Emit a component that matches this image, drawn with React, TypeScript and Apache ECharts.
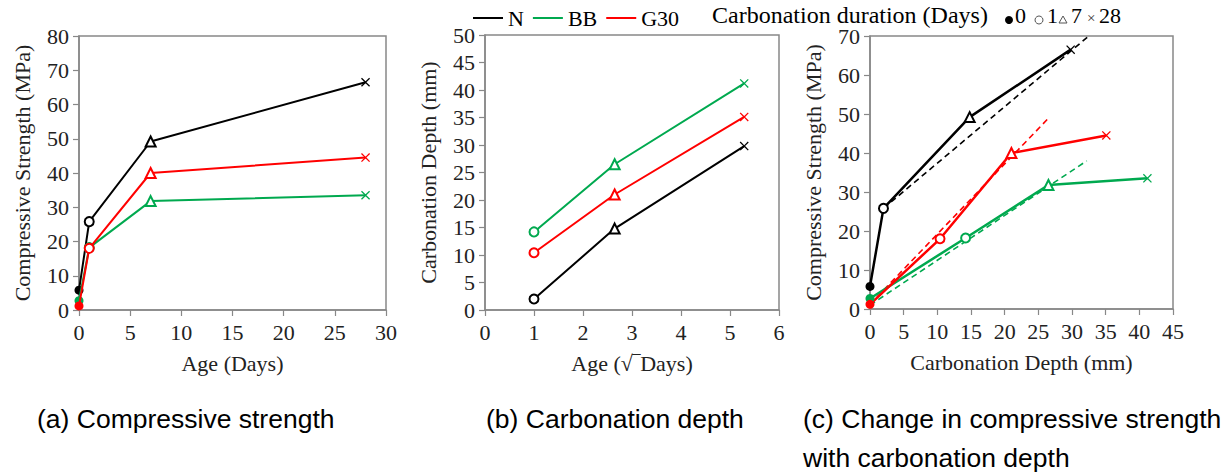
import React, { useEffect, useRef } from "react";
import * as echarts from "echarts";

// ---- Data ----
const ageDays = [0, 1, 7, 28];
const sqrtAge = [1, 2.646, 5.29];
const seriesNames = ["N", "BB", "G30"];
const colors = ["#000000", "#00A94F", "#FF0000"];

const strengthN = [5.8, 25.8, 49.2, 66.5];
const strengthBB = [2.7, 18.2, 31.8, 33.5];
const strengthG30 = [1.2, 18.0, 40.0, 44.5];

const depthN = [2.0, 14.8, 29.8];
const depthBB = [14.2, 26.5, 41.2];
const depthG30 = [10.4, 21.0, 35.1];

const fitN = [[2.0, 25.8], [32.5, 70]];
const fitBB = [[0, 1.0], [32.2, 38.0]];
const fitG30 = [[0, 1.2], [26.6, 49.1]];

const xTicksA = { min: 0, max: 30, interval: 5 };
const yTicksA = { min: 0, max: 80, interval: 10 };
const xTicksB = { min: 0, max: 6, interval: 1 };
const yTicksB = { min: 0, max: 50, interval: 5 };
const xTicksC = { min: 0, max: 45, interval: 5 };
const yTicksC = { min: 0, max: 70, interval: 10 };

const durationLabels = ["0", "1", "7", "28"];

const X_PATH = "path://M0,1 L1,0 L5,4 L9,0 L10,1 L6,5 L10,9 L9,10 L5,6 L1,10 L0,9 L4,5 Z";
const daySymbols = ["circle", "emptyCircle", "emptyTriangle", X_PATH];
const daySizes = [9, 9, 10, 9];

const SERIF = "Liberation Serif";
const SANS = "Liberation Sans";

export default function App() {
  const ref = useRef<HTMLDivElement>(null);

  useEffect(() => {
    document.body.style.margin = "0";
    if (!ref.current) return;
    const chart = echarts.init(ref.current, undefined, { renderer: "svg" });

    const strengths = [strengthN, strengthBB, strengthG30];
    const depths = [depthN, depthBB, depthG30];
    const fits = [fitN, fitBB, fitG30];

    const pt = (x: number, y: number, dayIdx: number) => ({
      value: [x, y],
      symbol: daySymbols[dayIdx],
      symbolSize: daySizes[dayIdx],
    });

    const series: any[] = [];
    seriesNames.forEach((name, i) => {
      series.push({
        name,
        type: "line",
        xAxisIndex: 0,
        yAxisIndex: 0,
        color: colors[i],
        lineStyle: { width: 2, color: colors[i] },
        itemStyle: { color: colors[i], borderWidth: 1 },
        data: ageDays.map((d, k) => pt(d, strengths[i][k], k)),
        z: 3 + i,
      });
      series.push({
        name,
        type: "line",
        xAxisIndex: 1,
        yAxisIndex: 1,
        color: colors[i],
        lineStyle: { width: 2, color: colors[i] },
        itemStyle: { color: colors[i], borderWidth: 1 },
        data: sqrtAge.map((s, k) => pt(s, depths[i][k], k + 1)),
      });
      const cx = [0, ...depths[i]];
      series.push({
        name,
        type: "line",
        xAxisIndex: 2,
        yAxisIndex: 2,
        color: colors[i],
        lineStyle: { width: 2.5, color: colors[i] },
        itemStyle: { color: colors[i], borderWidth: 1 },
        data: cx.map((x, k) => pt(x, strengths[i][k], k)),
        z: 3,
      });
      series.push({
        name: name + " fit",
        type: "line",
        xAxisIndex: 2,
        yAxisIndex: 2,
        color: colors[i],
        showSymbol: false,
        symbol: "none",
        lineStyle: { width: 1.6, color: colors[i], type: [6, 4] },
        data: fits[i],
        z: 2,
      });
    });

    const axisCommon = {
      type: "value",
      splitLine: { show: false },
      axisLine: { show: true, onZero: false, lineStyle: { color: "#888", width: 1.5 } },
      axisTick: { show: true, inside: false, length: 6, lineStyle: { color: "#888", width: 1.2 } },
      nameLocation: "middle",
      nameTextStyle: { fontFamily: SERIF, fontSize: 22, color: "#222" },
    };
    const xAx = (t: any, name: string, gridIndex: number) => ({
      ...axisCommon,
      gridIndex,
      ...t,
      name,
      nameGap: 42,
      axisLabel: { fontFamily: SERIF, fontSize: 22, lineHeight: 18, color: "#222", margin: 13 },
    });
    const yAx = (t: any, name: string, gridIndex: number) => ({
      ...axisCommon,
      gridIndex,
      ...t,
      name,
      nameGap: 46,
      axisLabel: { fontFamily: SERIF, fontSize: 22, lineHeight: 18, color: "#222", margin: 10 },
    });

    const gridCommon = { show: true, borderColor: "#888", borderWidth: 1.5, backgroundColor: "transparent" };

    const symX = 1006;
    const txt = (x: number, y: number, text: string, size: number, family: string, fill = "#000", lh?: number) => ({
      type: "text",
      x,
      y,
      style: { text, fontFamily: family, fontSize: size, fill, lineHeight: lh ?? size },
    });

    const option: any = {
      animation: false,
      backgroundColor: "#fff",
      grid: [
        { ...gridCommon, left: 79, top: 36, width: 307, height: 274 },
        { ...gridCommon, left: 485, top: 35, width: 294, height: 275 },
        { ...gridCommon, left: 870, top: 36, width: 303, height: 273 },
      ],
      xAxis: [
        xAx(xTicksA, "Age (Days)", 0),
        xAx(xTicksB, "Age (√‾Days)", 1),
        xAx(xTicksC, "Carbonation Depth (mm)", 2),
      ],
      yAxis: [
        yAx(yTicksA, "Compressive Strength (MPa)", 0),
        yAx(yTicksB, "Carbonation Depth (mm)", 1),
        yAx(yTicksC, "Compressive Strength (MPa)", 2),
      ],
      legend: {
        data: seriesNames,
        left: 473,
        top: 7,
        padding: 0,
        icon: "rect",
        itemWidth: 30,
        itemHeight: 2,
        itemGap: 9,
        textStyle: { fontFamily: SERIF, fontSize: 22, color: "#000" },
      },
      graphic: [
        txt(712, 3, "Carbonation duration (Days)", 24, SERIF, "#000", 23),
        { type: "circle", shape: { cx: symX + 3, cy: 20, r: 4 }, style: { fill: "#000" } },
        txt(symX + 9, 4, durationLabels[0], 22, SERIF, "#000", 22),
        { type: "circle", shape: { cx: symX + 33, cy: 20, r: 4 }, style: { fill: "#fff", stroke: "#555", lineWidth: 1 } },
        txt(symX + 41, 4, durationLabels[1], 22, SERIF, "#000", 22),
        {
          type: "polygon",
          shape: { points: [[symX + 53, 23], [symX + 61, 23], [symX + 57, 16]] },
          style: { fill: "#fff", stroke: "#555", lineWidth: 1 },
        },
        txt(symX + 65, 4, durationLabels[2], 22, SERIF, "#000", 22),
        txt(symX + 81, 10, "×", 15, SERIF, "#333"),
        txt(symX + 93, 4, durationLabels[3], 22, SERIF, "#000", 22),
        txt(37, 406, "(a) Compressive strength", 26.5, SANS),
        txt(486, 406, "(b) Carbonation depth", 26.5, SANS),
        txt(803, 406, "(c) Change in compressive strength", 26.5, SANS),
        txt(803, 445, "with carbonation depth", 26.5, SANS),
      ],
      series,
    };

    chart.setOption(option);
    return () => chart.dispose();
  }, []);

  return <div ref={ref} style={{ width: 1228, height: 475 }} />;
}
